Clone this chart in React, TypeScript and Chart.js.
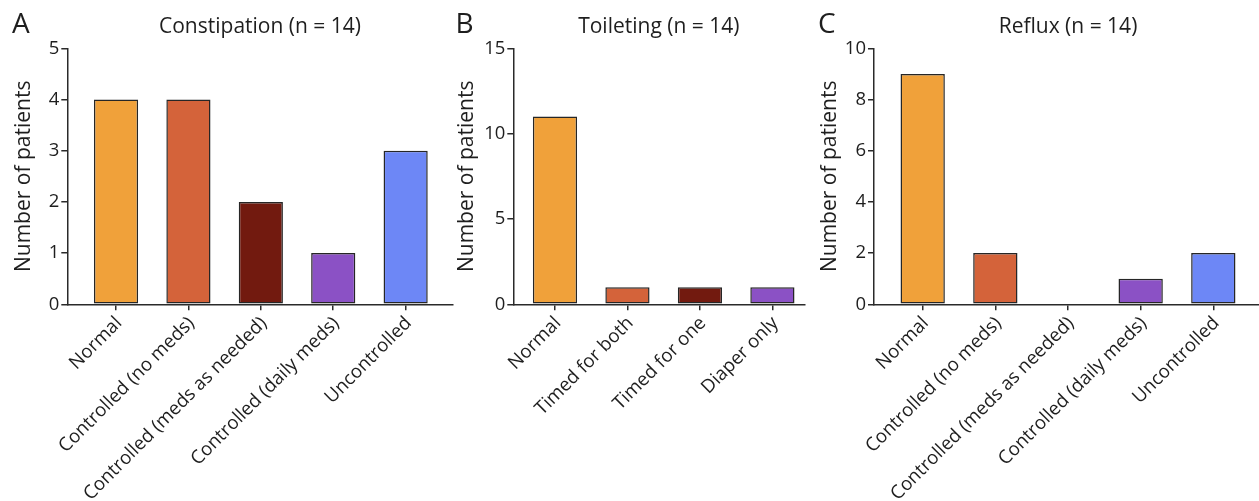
import React, { useEffect, useRef } from "react";
import { Chart, registerables } from "chart.js";

Chart.register(...registerables);

const constipationCategories = [
  "Normal",
  "Controlled (no meds)",
  "Controlled (meds as needed)",
  "Controlled (daily meds)",
  "Uncontrolled",
];
const constipationValues = [4, 4, 2, 1, 3];
const constipationYTicks = [0, 1, 2, 3, 4, 5];

const toiletingCategories = ["Normal", "Timed for both", "Timed for one", "Diaper only"];
const toiletingValues = [11, 1, 1, 1];
const toiletingYTicks = [0, 5, 10, 15];

const refluxCategories = [
  "Normal",
  "Controlled (no meds)",
  "Controlled (meds as needed)",
  "Controlled (daily meds)",
  "Uncontrolled",
];
const refluxValues = [9, 2, 0, 1, 2];
const refluxYTicks = [0, 2, 4, 6, 8, 10];

const barColors = ["#F0A13A", "#D4633A", "#721A0F", "#8B51C5", "#6D87F6"];

const INK = "#1e1e1e";
const AXIS = "#2a2a2a";
const FONT = "'Open Sans', 'DejaVu Sans', sans-serif";

type PanelProps = {
  letter: string;
  title: string;
  categories: string[];
  values: number[];
  yTicks: number[];
  canvasLeft: number;
  canvasWidth: number;
  axisLeft: number;
  axisRight: number;
  xMin: number;
  xMax: number;
  yTitleX: number;
  letterLeft: number;
};

const CANVAS_H = 501;
const AXIS_TOP = 48.3;
const AXIS_BOTTOM = 304.3;

function Panel(p: PanelProps) {
  const ref = useRef<HTMLCanvasElement | null>(null);
  useEffect(() => {
    if (!ref.current) return;
    const yWidth = p.axisLeft - p.canvasLeft;
    const padRight = p.canvasLeft + p.canvasWidth - p.axisRight;
    const yTitleLH = 21 * 1.2;
    const chart = new Chart(ref.current, {
      type: "bar",
      data: {
        datasets: [
          {
            data: p.values.map((v, i) => ({ x: i, y: v })),
            backgroundColor: p.values.map((_, i) => barColors[i % barColors.length]),
            borderColor: "#262626",
            borderWidth: 1.5,
            borderSkipped: false,
            barPercentage: 0.61,
            categoryPercentage: 1,
          },
        ],
      },
      options: {
        responsive: false,
        animation: false,
        layout: { padding: { left: 0, right: padRight, top: 0, bottom: 0 } },
        plugins: {
          legend: { display: false },
          tooltip: { enabled: false },
          title: {
            display: true,
            text: p.title,
            fullSize: false,
            color: INK,
            font: { family: FONT, size: 21, weight: "normal", lineHeight: 1.2 },
            padding: { top: 14, bottom: AXIS_TOP - 14 - 25.2 },
          },
        },
        scales: {
          x: {
            type: "linear",
            offset: false,
            min: p.xMin,
            max: p.xMax,
            afterBuildTicks: (scale: any) => {
              scale.ticks = p.categories.map((_, i) => ({ value: i }));
            },
            afterFit: (scale: any) => {
              scale.height = CANVAS_H - AXIS_BOTTOM;
            },
            ticks: {
              autoSkip: false,
              maxRotation: 45,
              minRotation: 45,
              padding: 2,
              labelOffset: 3,
              color: INK,
              font: { family: FONT, size: 18.7 },
              callback: (v: any) => p.categories[v as number] ?? "",
            },
            grid: {
              display: true,
              offset: false,
              drawOnChartArea: false,
              drawTicks: true,
              tickLength: 6,
              color: AXIS,
              lineWidth: 1.5,
            },
            border: { display: true, color: AXIS, width: 1.5 },
          },
          y: {
            type: "linear",
            min: 0,
            max: p.yTicks[p.yTicks.length - 1],
            afterBuildTicks: (scale: any) => {
              scale.ticks = p.yTicks.map((v) => ({ value: v }));
            },
            afterFit: (scale: any) => {
              scale.width = yWidth;
            },
            ticks: {
              padding: 2,
              color: INK,
              font: { family: FONT, size: 18.5 },
            },
            title: {
              display: true,
              text: "Number of patients",
              color: INK,
              font: { family: FONT, size: 21, lineHeight: 1.2 },
              padding: { top: p.yTitleX - p.canvasLeft - yTitleLH / 2, bottom: 0 },
            },
            grid: {
              display: true,
              drawOnChartArea: false,
              drawTicks: true,
              tickLength: 6,
              color: AXIS,
              lineWidth: 1.5,
            },
            border: { display: true, color: AXIS, width: 1.5 },
          },
        },
      } as any,
    });
    return () => chart.destroy();
  }, []);

  return (
    <>
      <canvas
        ref={ref}
        width={p.canvasWidth}
        height={CANVAS_H}
        style={{
          position: "absolute",
          left: p.canvasLeft,
          top: 0,
          width: p.canvasWidth,
          height: CANVAS_H,
        }}
      />
      <div
        style={{
          position: "absolute",
          left: p.letterLeft,
          top: 8,
          fontFamily: FONT,
          fontSize: 28,
          lineHeight: 1,
          color: INK,
        }}
      >
        {p.letter}
      </div>
    </>
  );
}

export default function App() {
  return (
    <div
      style={{
        position: "absolute",
        left: 0,
        top: 0,
        width: 1259,
        height: 501,
        overflow: "hidden",
        background: "#fff",
      }}
    >
      <Panel
        letter="A"
        title="Constipation (n = 14)"
        categories={constipationCategories}
        values={constipationValues}
        yTicks={constipationYTicks}
        canvasLeft={0}
        canvasWidth={470}
        axisLeft={67.3}
        axisRight={452.7}
        xMin={-0.673}
        xMax={4.65}
        yTitleX={24}
        letterLeft={12}
      />
      <Panel
        letter="B"
        title="Toileting (n = 14)"
        categories={toiletingCategories}
        values={toiletingValues}
        yTicks={toiletingYTicks}
        canvasLeft={445}
        canvasWidth={380}
        axisLeft={513.3}
        axisRight={804.3}
        xMin={-0.575}
        xMax={3.44}
        yTitleX={467.5}
        letterLeft={455.5}
      />
      <Panel
        letter="C"
        title="Reflux (n = 14)"
        categories={refluxCategories}
        values={refluxValues}
        yTicks={refluxYTicks}
        canvasLeft={800}
        canvasWidth={475}
        axisLeft={874}
        axisRight={1262}
        xMin={-0.67}
        xMax={4.67}
        yTitleX={830}
        letterLeft={818}
      />
    </div>
  );
}
